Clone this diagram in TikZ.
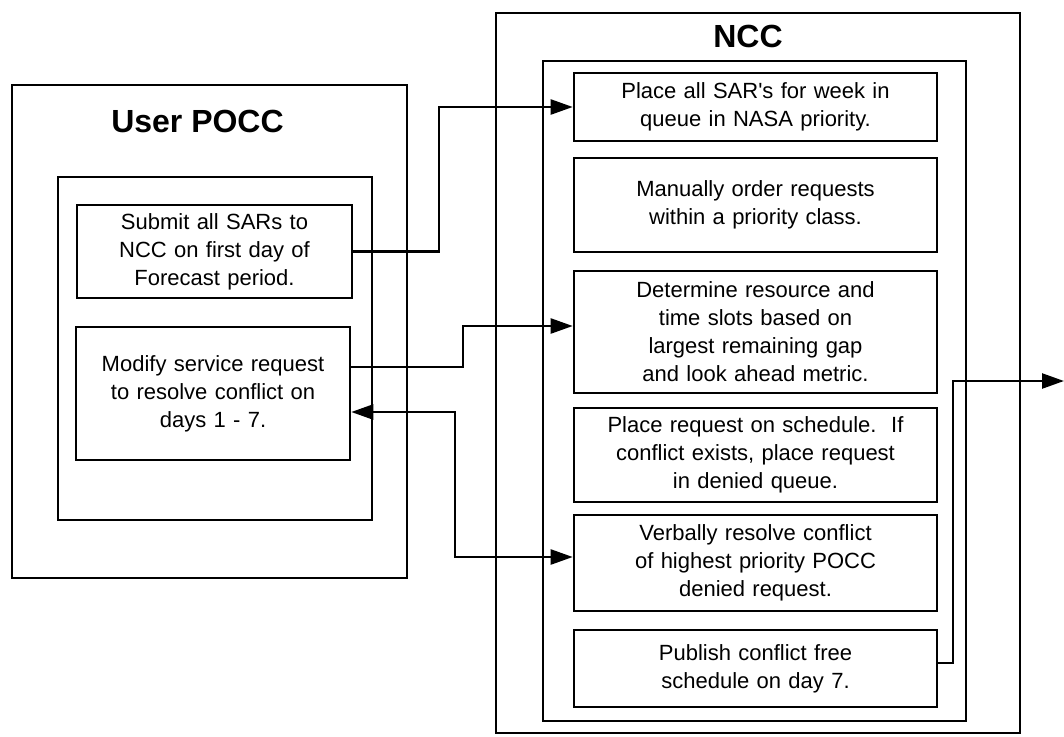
\documentclass[tikz,border=0pt]{standalone}
\usepackage{fontspec}
\setmainfont{Liberation Sans}
\usetikzlibrary{arrows.meta,calc}
\tikzset{
  frame/.style={draw, line width=2.6pt, inner sep=0pt},
  box/.style={draw, line width=2.6pt, inner sep=0pt, align=center,
    font=\fontsize{22}{28}\selectfont},
  title/.style={font=\fontsize{32}{38}\selectfont\bfseries, inner sep=0pt},
  conn/.style={line width=2.4pt},
  arr/.style={conn, -{Triangle[length=22pt,width=15pt]}},
  darr/.style={conn, {Triangle[length=22pt,width=15pt]}-{Triangle[length=22pt,width=15pt]}}
}
\begin{document}
\begin{tikzpicture}[x=1pt,y=-1pt]
\useasboundingbox (0,0) rectangle (1064,736);
% User POCC
\node[frame, minimum width=395, minimum height=493] (pocc) at (209.5,331.5) {};
\node[title] (pocct) at (197.5,121) {User POCC};
\node[frame, minimum width=314, minimum height=343] (poccin) at (215,348.5) {};
\node[box, minimum width=275, minimum height=93, text width=265] (p1) at (214.5,251.5)
  {Submit all SARs to\\NCC on first day of\\Forecast period.};
\node[box, minimum width=274, minimum height=133, text width=264] (p2) at (213,393.5)
  {Modify service request\\to resolve conflict on\\days 1 - 7.\\[6pt]};
% NCC
\node[frame, minimum width=524, minimum height=720] (ncc) at (758,373) {};
\node[title] (ncct) at (748,36) {NCC};
\node[frame, minimum width=423, minimum height=660] (nccin) at (754.5,391) {};
\node[box, minimum width=363, minimum height=68, text width=353] (n1) at (755.5,107)
  {Place all SAR\textquotesingle s for week in\\queue in NASA priority.};
\node[box, minimum width=363, minimum height=94, text width=353] (n2) at (755.5,205)
  {Manually order requests\\within a priority class.};
\node[box, minimum width=363, minimum height=122, text width=353] (n3) at (755.5,332)
  {Determine resource and\\time slots based on\\largest remaining gap\\and look ahead metric.};
\node[box, minimum width=363, minimum height=94, text width=353] (n4) at (755.5,455)
  {Place request on schedule.\ \ If\\conflict exists, place request\\in denied queue.};
\node[box, minimum width=363, minimum height=96, text width=353] (n5) at (755.5,563)
  {Verbally resolve conflict\\of highest priority POCC\\denied request.};
\node[box, minimum width=363, minimum height=77, text width=353] (n6) at (755.5,668.5)
  {Publish conflict free\\schedule on day 7.};
\coordinate (out) at (1064,381);
% connectors
\draw[arr] (p1.east) -- (439,251.5) |- (n1.west);
\draw[arr] ([yshift=26.5pt]p2.east) -- (463,367) |- ([yshift=6pt]n3.west);
\draw[darr] ([yshift=-18.5pt]p2.east) -- (455,412) |- ([yshift=6pt]n5.west);
\draw[arr] ([yshift=5.5pt]n6.east) -- (953,663) |- (out);
\end{tikzpicture}
\end{document}
